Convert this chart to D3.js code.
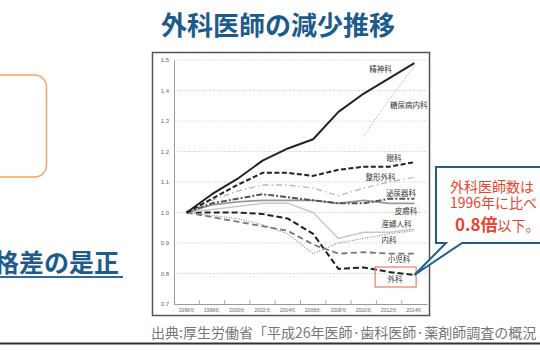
<!DOCTYPE html>
<html>
<head>
<meta charset="utf-8">
<script src="https://cdn.jsdelivr.net/npm/d3@7"></script>
<style>
  body { margin: 0; background: #fff; }
  svg { display: block; font-family: "Noto Sans CJK JP", "Noto Sans", sans-serif; }
</style>
</head>
<body>
<div id="chart"></div>
<script>
// data (ratio to 1996)
var years = ["1996", "1998", "2000", "2002", "2004", "2006", "2008", "2010", "2012", "2014"];
var yTicks = [0.7, 0.8, 0.9, 1.0, 1.1, 1.2, 1.3, 1.4, 1.5];

var seishin   = [1.0, 1.06, 1.11, 1.17, 1.21, 1.24, 1.33, 1.39, 1.44, 1.49];
var tonyo     = [null, null, null, null, null, null, null, 1.25, 1.37, 1.48];
var ganka     = [1.0, 1.045, 1.09, 1.13, 1.13, 1.12, 1.14, 1.15, 1.15, 1.165];
var seikei    = [1.0, 1.04, 1.07, 1.09, 1.09, 1.08, 1.055, 1.08, 1.10, 1.115];
var hinyoki   = [1.0, 1.03, 1.045, 1.06, 1.05, 1.04, 1.03, 1.03, 1.045, 1.045];
var hifu      = [1.0, 1.025, 1.035, 1.04, 1.04, 1.04, 1.03, 1.04, 1.03, 1.03];
var sanfujin  = [1.0, 1.01, 1.02, 1.03, 1.03, 1.0, 0.915, 0.935, 0.935, 0.945];
var naika     = [1.0, 0.99, 0.98, 0.96, 0.93, 0.865, 0.90, 0.915, 0.93, 0.94];
var shoni     = [1.0, 0.985, 0.97, 0.955, 0.94, 0.895, 0.865, 0.87, 0.865, 0.865];
var geka      = [1.0, 1.0, 1.0, 0.995, 0.98, 0.93, 0.815, 0.82, 0.805, 0.795];

var series = [
  { name: "精神科",     values: seishin,  color: "#222", width: 2,   dash: null,       lx: 7.66, ly: 1.470 },
  { name: "糖尿病内科", values: tonyo,    color: "#888", width: 0.8, dash: "1,1.5",    lx: 8.78, ly: 1.352 },
  { name: "眼科",       values: ganka,    color: "#222", width: 2,   dash: "5,2.5",    lx: 8.2,  ly: 1.179 },
  { name: "整形外科",   values: seikei,   color: "#bbb", width: 1.4, dash: "6,3,1.5,3", lx: 7.66, ly: 1.116 },
  { name: "泌尿器科",   values: hinyoki,  color: "#555", width: 2,   dash: "6,2,2,2",  lx: 8.47, ly: 1.061 },
  { name: "皮膚科",     values: hifu,     color: "#999", width: 1.8, dash: null,       lx: 8.67, ly: 1.005 },
  { name: "産婦人科",   values: sanfujin, color: "#c8c8c8", width: 1.5, dash: null,    lx: 8.3,  ly: 0.962 },
  { name: "内科",       values: naika,    color: "#888", width: 1.2, dash: "1,1.5",    lx: 8.0,  ly: 0.907 },
  { name: "小児科",     values: shoni,    color: "#777", width: 1.8, dash: "6,3.5",    lx: 8.39, ly: 0.847 },
  { name: "外科",       values: geka,     color: "#222", width: 2,   dash: "6,3",      lx: 8.24, ly: 0.782 }
];

var width = 540, height = 351;

var svg = d3.select("#chart")
  .append("svg")
    .attr("width", width)
    .attr("height", height);

// title
svg.append("text")
  .attr("x", 278).attr("y", 35)
  .attr("text-anchor", "middle")
  .style("font-size", "26px").style("font-weight", "bold")
  .style("fill", "#1d5b8c")
  .text("外科医師の減少推移");

// left side leftovers of the slide
svg.append("rect")
  .attr("x", -20).attr("y", 75).attr("width", 66.5).attr("height", 102)
  .attr("rx", 12)
  .style("fill", "none").style("stroke", "#f6a465").style("stroke-width", 1.5);
svg.append("text")
  .attr("x", 5).attr("y", 167)
  .attr("text-anchor", "end")
  .style("font-size", "12px").style("fill", "#999")
  .text("。");

svg.append("text")
  .attr("x", 119).attr("y", 272)
  .attr("text-anchor", "end")
  .style("font-size", "25px").style("font-weight", "bold")
  .style("fill", "#1d5b8c")
  .text("格差の是正");
svg.append("line")
  .attr("x1", 0).attr("x2", 123).attr("y1", 277).attr("y2", 277)
  .style("stroke", "#2c6b9c").style("stroke-width", 2);

// chart frame
svg.append("rect")
  .attr("x", 152.5).attr("y", 52.5).attr("width", 277).attr("height", 263)
  .style("fill", "#fff").style("stroke", "#555").style("stroke-width", 1.5);

var x = d3.scaleBand().domain(years).range([174, 427]).padding(0);
var xi = d3.scaleLinear().domain([0, years.length - 1])
  .range([x(years[0]) + x.bandwidth() / 2, x(years[years.length - 1]) + x.bandwidth() / 2]);
var y = d3.scaleLinear().domain([0.7, 1.5]).range([304, 60]);

// grid
svg.append("g").selectAll("line")
  .data(yTicks.filter(function(d) { return d > 0.7; }))
  .enter().append("line")
    .attr("x1", 174).attr("x2", 427)
    .attr("y1", function(d) { return y(d); })
    .attr("y2", function(d) { return y(d); })
    .style("stroke", "#bbb").style("stroke-width", 0.8)
    .style("stroke-dasharray", "1,1.5");

// y axis
var yAxis = svg.append("g")
  .attr("transform", "translate(174,0)")
  .call(d3.axisLeft(y).tickValues(yTicks).tickSize(0).tickPadding(5)
    .tickFormat(d3.format(".1f")));
yAxis.select(".domain").style("stroke", "#999").style("stroke-width", 1);
yAxis.selectAll("text").style("font-size", "6px").style("fill", "#666")
  .style("font-family", "Liberation Sans, sans-serif");

// x axis
var xAxis = svg.append("g")
  .attr("transform", "translate(0,304)")
  .call(d3.axisBottom(x).tickSize(0).tickPadding(4).tickFormat(function(d) { return d + "年"; }));
xAxis.select(".domain").style("stroke", "#999").style("stroke-width", 1);
xAxis.selectAll("text").style("font-size", "5px").style("fill", "#666");
svg.append("g").selectAll("line")
  .data(years.slice(1))
  .enter().append("line")
    .attr("x1", function(d) { return x(d); })
    .attr("x2", function(d) { return x(d); })
    .attr("y1", 304).attr("y2", 300)
    .style("stroke", "#999").style("stroke-width", 0.8);

// lines
var line = d3.line()
  .defined(function(d) { return d != null; })
  .x(function(d, i) { return xi(i); })
  .y(function(d) { return y(d); });

svg.append("g").selectAll("path")
  .data(series.slice().reverse())
  .enter().append("path")
    .attr("d", function(d) { return line(d.values); })
    .style("fill", "none")
    .style("stroke", function(d) { return d.color; })
    .style("stroke-width", function(d) { return d.width; })
    .style("stroke-dasharray", function(d) { return d.dash; })
    .style("stroke-linejoin", "round");

// series labels
svg.append("g").selectAll("text")
  .data(series)
  .enter().append("text")
    .attr("x", function(d) { return xi(d.lx); })
    .attr("y", function(d) { return y(d.ly) + 2.6; })
    .attr("text-anchor", "middle")
    .style("font-size", "7.5px").style("fill", "#333")
    .text(function(d) { return d.name; });

// red box around 外科
var gk = series[series.length - 1];
svg.append("rect")
  .attr("x", xi(gk.lx) - 20).attr("y", y(gk.ly) - 12)
  .attr("width", 41).attr("height", 20)
  .style("fill", "none").style("stroke", "#ee7a68").style("stroke-width", 1.2);

// callout bubble pointing at the 2014 surgery value
var tip = [xi(years.length - 1), y(geka[geka.length - 1])];
svg.append("path")
  .attr("d", "M436,167 L560,167 L560,243 L462,243 L" + tip[0] + "," + tip[1] + " L446,243 L436,243 Z")
  .style("fill", "#fff").style("stroke", "#1f5f8e").style("stroke-width", 2);

var callout = svg.append("g").style("fill", "#e9452e");
callout.append("text").attr("x", 450).attr("y", 192)
  .style("font-size", "14px").text("外科医師数は");
callout.append("text").attr("x", 450).attr("y", 208)
  .style("font-size", "14px").text("1996年に比べ");
var l3 = callout.append("text").attr("x", 455).attr("y", 231);
l3.append("tspan").style("font-size", "17px").style("font-weight", "bold").text("0.8倍");
l3.append("tspan").style("font-size", "14px").text("以下。");

// source
svg.append("text")
  .attr("x", 151).attr("y", 338)
  .style("font-size", "14px").style("fill", "#777")
  .text("出典:厚生労働省「平成26年医師·歯科医師·薬剤師調査の概況");

svg.append("line")
  .attr("x1", 0).attr("x2", 540).attr("y1", 343.5).attr("y2", 343.5)
  .style("stroke", "#333").style("stroke-width", 2);
</script>
</body>
</html>
